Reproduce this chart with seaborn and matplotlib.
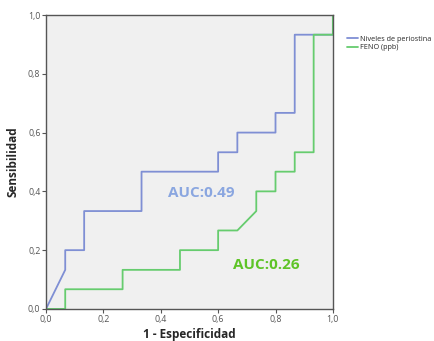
import numpy as np
import pandas as pd
import matplotlib
matplotlib.use("Agg")
import matplotlib.pyplot as plt
import seaborn as sns

# ROC curve vertices
peri_x = [0.0, 0.067, 0.067, 0.133, 0.133, 0.333, 0.333, 0.6, 0.6, 0.667, 0.667, 0.8, 0.8, 0.867, 0.867, 1.0, 1.0]
peri_y = [0.0, 0.133, 0.2, 0.2, 0.333, 0.333, 0.467, 0.467, 0.533, 0.533, 0.6, 0.6, 0.667, 0.667, 0.933, 0.933, 1.0]

feno_x = [0.0, 0.067, 0.067, 0.267, 0.267, 0.467, 0.467, 0.6, 0.6, 0.667, 0.733, 0.733, 0.8, 0.8, 0.867, 0.867, 0.933, 0.933, 1.0, 1.0]
feno_y = [0.0, 0.0, 0.067, 0.067, 0.133, 0.133, 0.2, 0.2, 0.267, 0.267, 0.333, 0.4, 0.4, 0.467, 0.467, 0.533, 0.533, 0.933, 0.933, 1.0]

series_names = ["Niveles de periostina", "FENO (ppb)"]
auc_labels = ["AUC:0.49", "AUC:0.26"]
tick_vals = [0.0, 0.2, 0.4, 0.6, 0.8, 1.0]
tick_labels = ["0,0", "0,2", "0,4", "0,6", "0,8", "1,0"]

df = pd.concat([
    pd.DataFrame({"x": peri_x, "y": peri_y, "serie": series_names[0]}),
    pd.DataFrame({"x": feno_x, "y": feno_y, "serie": series_names[1]}),
])

sns.set_style("white")
plt.rcParams["font.family"] = ["Open Sans", "DejaVu Sans"]

colors = {series_names[0]: "#7f8fd4", series_names[1]: "#66cc6e"}

fig = plt.figure(figsize=(4.34, 3.41), dpi=100)
ax = fig.add_axes([0.106, 0.094, 0.661, 0.862])
ax.set_facecolor("#f0f0f0")

sns.lineplot(data=df, x="x", y="y", hue="serie", palette=colors, sort=False,
             estimator=None, linewidth=1.3, ax=ax)

ax.set_xlim(0, 1)
ax.set_ylim(0, 1)
ax.set_xticks(tick_vals)
ax.set_xticklabels(tick_labels)
ax.set_yticks(tick_vals)
ax.set_yticklabels(tick_labels)
ax.tick_params(axis="both", labelsize=6.3, colors="#555555", length=3, width=0.8,
               direction="out", bottom=True, left=True, pad=1)
for s in ax.spines.values():
    s.set_color("#555555")
    s.set_linewidth(1.0)

ax.set_xlabel("1 - Especificidad", fontsize=8.5, fontweight="bold", labelpad=3)
ax.set_ylabel("Sensibilidad", fontsize=8.5, fontweight="bold", labelpad=6)

ax.text(0.54, 0.395, auc_labels[0], color="#8aa6e0", fontsize=11, fontweight="bold",
        ha="center", va="center")
ax.text(0.767, 0.15, auc_labels[1], color="#5ec427", fontsize=11, fontweight="bold",
        ha="center", va="center")

ax.legend(loc="upper left", bbox_to_anchor=(1.04, 0.94), frameon=False, fontsize=5.2,
          handlelength=1.5, handletextpad=0.3, labelspacing=0.2, borderaxespad=0)

plt.savefig("out.png", dpi=100)
